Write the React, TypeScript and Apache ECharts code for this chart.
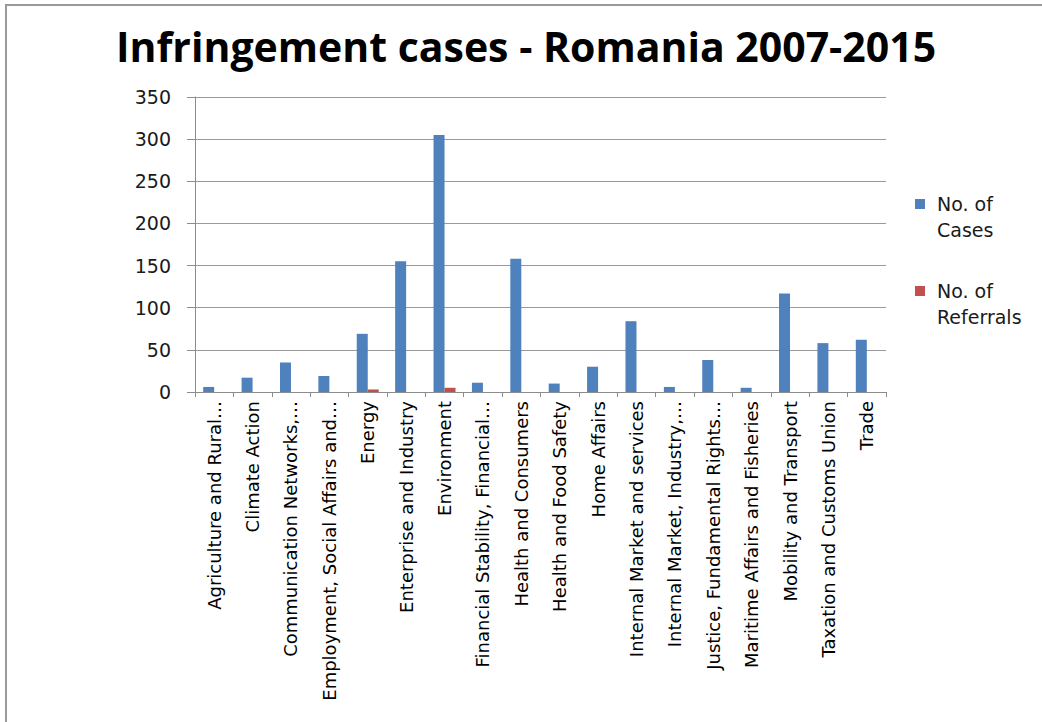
import React, { useEffect, useRef } from "react";
import * as echarts from "echarts";

const categories = [
  "Agriculture and Rural…",
  "Climate Action",
  "Communication Networks,…",
  "Employment, Social Affairs and…",
  "Energy",
  "Enterprise and Industry",
  "Environment",
  "Financial Stability, Financial…",
  "Health and Consumers",
  "Health and Food Safety",
  "Home Affairs",
  "Internal Market and services",
  "Internal Market, Industry,…",
  "Justice, Fundamental Rights…",
  "Maritime Affairs and Fisheries",
  "Mobility and Transport",
  "Taxation and Customs Union",
  "Trade",
];

const casesValues = [6, 17, 35, 19, 69, 155, 305, 11, 158, 10, 30, 84, 6, 38, 5, 117, 58, 62];
const referralValues = [0, 0, 0, 0, 3, 0, 5, 0, 0, 0, 0, 0, 0, 0, 0, 0, 0, 0];

const seriesNames = ["No. of\nCases", "No. of\nReferrals"];
const yTicks = { min: 0, max: 350, interval: 50 };

const FONT = "'DejaVu Sans', sans-serif";

export default function App() {
  const ref = useRef<HTMLDivElement>(null);
  useEffect(() => {
    document.body.style.margin = "0";
    const chart = echarts.init(ref.current!, null, { renderer: "svg" });
    const legendIcon = "path://M0 0H10V10H0Z M0 35.99H0.01V36H0Z";
    chart.setOption({
      animation: false,
      backgroundColor: "#ffffff",
      title: {
        text: "Infringement cases - Romania 2007-2015",
        left: 526,
        textAlign: "center",
        top: 25,
        padding: 0,
        textStyle: {
          fontFamily: "'Open Sans', sans-serif",
          fontWeight: "bold",
          fontSize: 41,
          color: "#000000",
        },
      },
      graphic: [
        {
          type: "rect",
          shape: { x: 6, y: 5, width: 1060, height: 740 },
          style: { fill: "none", stroke: "#9a9a9a", lineWidth: 2 },
          silent: true,
        },
      ],
      legend: {
        orient: "vertical",
        left: 915,
        top: 191,
        padding: 0,
        itemGap: 35,
        itemWidth: 10,
        itemHeight: 36,
        icon: legendIcon,
        data: seriesNames,
        textStyle: {
          fontFamily: FONT,
          fontSize: 19,
          lineHeight: 26,
          color: "#1a1a1a",
          padding: [0, 0, 0, 7],
        },
      },
      grid: { left: 195, right: 156, top: 97, bottom: 330, containLabel: false },
      xAxis: {
        type: "category",
        data: categories,
        axisLine: { lineStyle: { color: "#8c8c8c", width: 1 } },
        axisTick: { show: true, length: 5, lineStyle: { color: "#8c8c8c" } },
        axisLabel: {
          rotate: 90,
          interval: 0,
          margin: 9,
          fontFamily: FONT,
          fontSize: 18,
          color: "#000000",
        },
      },
      yAxis: {
        type: "value",
        min: yTicks.min,
        max: yTicks.max,
        interval: yTicks.interval,
        axisLine: { show: true, lineStyle: { color: "#8c8c8c", width: 1 } },
        axisTick: { show: true, inside: false, length: 8, lineStyle: { color: "#8c8c8c" } },
        splitLine: { lineStyle: { color: "#9a9a9a", width: 1 } },
        axisLabel: {
          margin: 24,
          fontFamily: FONT,
          fontSize: 19,
          color: "#1a1a1a",
        },
      },
      series: [
        {
          name: seriesNames[0],
          type: "bar",
          data: casesValues,
          barWidth: 11,
          barGap: "0%",
          itemStyle: { color: "#4F81BD" },
        },
        {
          name: seriesNames[1],
          type: "bar",
          data: referralValues,
          barWidth: 11,
          itemStyle: { color: "#C0504D" },
        },
      ],
    });
    return () => chart.dispose();
  }, []);
  return <div ref={ref} style={{ width: 1042, height: 722, position: "absolute", left: 0, top: 0 }} />;
}
